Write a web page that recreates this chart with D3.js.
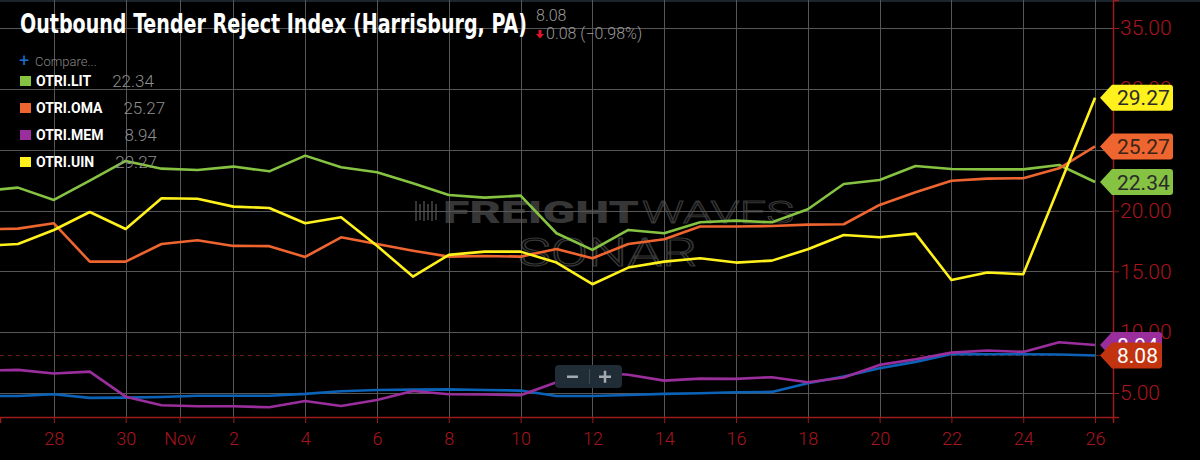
<!DOCTYPE html>
<html>
<head>
<meta charset="utf-8">
<script src="https://cdn.jsdelivr.net/npm/d3@7"></script>
<style>
  body { margin: 0; background: #000; }
  svg { display: block; font-family: Roboto, "Noto Sans", sans-serif; }
</style>
</head>
<body>
<svg id="chart" width="1200" height="460"></svg>
<script>
var dates = ["2019-10-26", "2019-10-27", "2019-10-28", "2019-10-29", "2019-10-30", "2019-10-31",
  "2019-11-01", "2019-11-02", "2019-11-03", "2019-11-04", "2019-11-05", "2019-11-06", "2019-11-07",
  "2019-11-08", "2019-11-09", "2019-11-10", "2019-11-11", "2019-11-12", "2019-11-13", "2019-11-14",
  "2019-11-15", "2019-11-16", "2019-11-17", "2019-11-18", "2019-11-19", "2019-11-20", "2019-11-21",
  "2019-11-22", "2019-11-23", "2019-11-24", "2019-11-25", "2019-11-26"];

var otriHar = [4.76, 4.76, 4.90, 4.60, 4.62, 4.67, 4.78, 4.78, 4.78, 4.93, 5.15, 5.25, 5.28, 5.30, 5.25, 5.20,
  4.76, 4.76, 4.84, 4.93, 4.98, 5.06, 5.09, 5.80, 6.35, 7.04, 7.56, 8.21, 8.18, 8.18, 8.16, 8.08];
var otriLit = [21.60, 21.88, 20.87, 22.45, 24.07, 23.44, 23.33, 23.61, 23.22, 24.51, 23.55, 23.14, 22.24, 21.28, 21.06, 21.22,
  18.13, 16.76, 18.40, 18.13, 19.03, 19.17, 19.03, 20.10, 22.18, 22.51, 23.66, 23.41, 23.38, 23.38, 23.74, 22.34];
var otriOma = [18.45, 18.51, 18.95, 15.80, 15.80, 17.25, 17.55, 17.09, 17.07, 16.18, 17.80, 17.25, 16.70, 16.21, 16.26, 16.21,
  16.84, 16.07, 17.25, 17.64, 18.68, 18.68, 18.73, 18.84, 18.87, 20.46, 21.50, 22.45, 22.62, 22.65, 23.47, 25.27];
var otriMem = [6.85, 6.90, 6.60, 6.76, 4.70, 4.00, 3.91, 3.91, 3.83, 4.35, 3.93, 4.43, 5.17, 4.90, 4.88, 4.82,
  5.89, 6.70, 6.50, 6.02, 6.18, 6.16, 6.30, 5.89, 6.28, 7.31, 7.77, 8.32, 8.49, 8.38, 9.17, 8.94];
var otriUin = [17.09, 17.25, 18.40, 19.88, 18.48, 21.01, 20.96, 20.32, 20.21, 18.95, 19.44, 17.10, 14.57, 16.35, 16.62, 16.62,
  15.72, 13.94, 15.31, 15.80, 16.07, 15.72, 15.88, 16.81, 17.99, 17.80, 18.10, 14.29, 14.90, 14.76, 22.00, 29.27];

var xTickDates = ["2019-10-28", "2019-10-30", "2019-10-31T12:00", "2019-11-02", "2019-11-04", "2019-11-06", "2019-11-08",
  "2019-11-10", "2019-11-12", "2019-11-14", "2019-11-16", "2019-11-18", "2019-11-20", "2019-11-22", "2019-11-24", "2019-11-26"];
var xTickLabels = ["28", "30", "Nov", "2", "4", "6", "8", "10", "12", "14", "16", "18", "20", "22", "24", "26"];
var yTicks = [5, 10, 15, 20, 25, 30, 35];

var series = [
  {name: "OTRI.HAR", values: otriHar, color: "#0b62b6", legend: false, tag: "#c2340f", tagText: "#fff"},
  {name: "OTRI.LIT", values: otriLit, color: "#86c342", legend: true, tag: "#86c342", tagText: "#2b2b2b"},
  {name: "OTRI.OMA", values: otriOma, color: "#ee6530", legend: true, tag: "#ee6530", tagText: "#3a2418"},
  {name: "OTRI.MEM", values: otriMem, color: "#9b2e9d", legend: true, tag: "#9b2e9d", tagText: "#fff"},
  {name: "OTRI.UIN", values: otriUin, color: "#fff21c", legend: true, tag: "#fff21c", tagText: "#2b2b2b"}
];

var svg = d3.select("#chart"),
    plotRight = 1113,
    plotBottom = 417,
    axisColor = "#9c1b1b",
    labelColor = "#a8151e",
    parse = d3.utcParse("%Y-%m-%d"),
    parseT = d3.utcParse("%Y-%m-%dT%H:%M");

var x = d3.scaleUtc()
    .domain([parseT("2019-10-26T12:00"), parseT("2019-11-26T12:00")])
    .range([0, plotRight]);
var y = d3.scaleLinear().domain([35 - 389 / 12.167, 35 + 28 / 12.167]).range([plotBottom, 0]);

var tickDates = xTickDates.map(function(s) { return s.length > 10 ? parseT(s) : parse(s); });

svg.append("rect").attr("width", 1200).attr("height", 460).attr("fill", "#000");
svg.append("rect").attr("width", 1200).attr("height", 2).attr("fill", "#1c252d");

// watermark
var wm = svg.append("g").attr("fill", "#363636");
[0, 4, 8, 12, 16, 20].forEach(function(dx, i) {
  wm.append("rect").attr("x", 415 + dx).attr("y", 201 + (i % 2) * 3).attr("width", 2).attr("height", 20 - (i % 2) * 4);
});
wm.append("text").attr("x", 443).attr("y", 223).attr("font-size", 31).attr("font-weight", 900)
    .attr("textLength", 196).attr("lengthAdjust", "spacingAndGlyphs").text("FREIGHT");
wm.append("text").attr("x", 642).attr("y", 223).attr("font-size", 31).attr("font-weight", 300)
    .attr("fill", "none").attr("stroke", "#363636").attr("stroke-width", 1)
    .attr("textLength", 152).attr("lengthAdjust", "spacingAndGlyphs").text("WAVES");
wm.append("text").attr("x", 518).attr("y", 266).attr("font-size", 38).attr("font-weight", 300)
    .attr("fill", "none").attr("stroke", "#363636").attr("stroke-width", 1.2)
    .attr("textLength", 179).attr("lengthAdjust", "spacingAndGlyphs").text("SONAR");

// grid
var grid = svg.append("g").attr("stroke", "#575757").attr("stroke-width", 1);
grid.selectAll(".vg").data(tickDates).enter().append("line")
    .attr("x1", function(d) { return Math.round(x(d)) + 0.5; })
    .attr("x2", function(d) { return Math.round(x(d)) + 0.5; })
    .attr("y1", 0).attr("y2", plotBottom);
grid.selectAll(".hg").data(yTicks).enter().append("line")
    .attr("x1", 0).attr("x2", plotRight)
    .attr("y1", function(d) { return Math.round(y(d)) + 0.5; })
    .attr("y2", function(d) { return Math.round(y(d)) + 0.5; });

var last = otriHar[otriHar.length - 1];
svg.append("line")
    .attr("x1", 0).attr("x2", plotRight)
    .attr("y1", y(last)).attr("y2", y(last))
    .attr("stroke", "#6e1d12").attr("stroke-width", 1).attr("stroke-dasharray", "4,4");

svg.append("clipPath").attr("id", "plot")
  .append("rect").attr("width", plotRight).attr("height", plotBottom);

var line = d3.line()
    .x(function(d, i) { return x(parse(dates[i])); })
    .y(function(d) { return y(d); });

svg.append("g").attr("clip-path", "url(#plot)")
  .selectAll(".series")
  .data(series)
  .enter().append("path")
    .attr("fill", "none")
    .attr("stroke", function(d) { return d.color; })
    .attr("stroke-width", 2.6)
    .attr("stroke-linejoin", "round")
    .attr("d", function(d) { return line(d.values); });

// axes
var xAxis = svg.append("g")
    .attr("transform", "translate(0," + plotBottom + ")")
    .call(d3.axisBottom(x).tickValues(tickDates).tickSizeOuter(0).tickSize(6).tickPadding(9)
      .tickFormat(function(d, i) { return xTickLabels[i]; }));
xAxis.selectAll("text").attr("fill", labelColor).attr("font-size", 18).attr("font-weight", 300)
    .attr("font-family", "Roboto, sans-serif");

var yAxis = svg.append("g")
    .attr("transform", "translate(" + plotRight + ",0)")
    .call(d3.axisRight(y).tickValues(yTicks).tickSizeOuter(0).tickSize(6).tickPadding(1)
      .tickFormat(d3.format(".2f")));
yAxis.selectAll("text").attr("fill", labelColor).attr("font-size", 21).attr("font-weight", 300)
    .attr("font-family", "Roboto, sans-serif");

svg.selectAll(".domain").attr("stroke", axisColor).attr("stroke-width", 1.5);
svg.selectAll(".tick line").attr("stroke", axisColor);

// value tags at the right edge
var tagOrder = [series[4], series[2], series[1], series[3], series[0]];
var tags = svg.append("g").selectAll(".tag").data(tagOrder).enter().append("g")
    .attr("transform", function(d) { return "translate(1100," + y(d.values[d.values.length - 1]) + ")"; });
tags.append("path")
    .attr("fill", function(d) { return d.tag; })
    .attr("d", function(d) {
      var txt = d.values[d.values.length - 1].toFixed(2), w = txt.length > 4 ? 73 : 62;
      return "M0,0L12,-13L" + (w - 3) + ",-13Q" + w + ",-13 " + w + ",-10L" + w + ",10Q" + w + ",13 " + (w - 3) + ",13L12,13Z";
    });
tags.append("text")
    .attr("x", 17).attr("dy", "0.36em")
    .attr("font-size", 21)
    .attr("fill", function(d) { return d.tagText; })
    .text(function(d) { return d.values[d.values.length - 1].toFixed(2); });

// zoom control
var zc = svg.append("g").attr("transform", "translate(555,365)");
zc.append("rect").attr("width", 67).attr("height", 23).attr("rx", 4).attr("fill", "#212d36");
zc.append("line").attr("x1", 34.5).attr("x2", 34.5).attr("y1", 4).attr("y2", 19).attr("stroke", "#3c4a55");
zc.append("rect").attr("x", 12).attr("y", 10.5).attr("width", 11).attr("height", 2.5).attr("fill", "#a3abb1");
zc.append("rect").attr("x", 44).attr("y", 10.5).attr("width", 12).attr("height", 2.5).attr("fill", "#a3abb1");
zc.append("rect").attr("x", 48.75).attr("y", 5.75).attr("width", 2.5).attr("height", 12).attr("fill", "#a3abb1");

// title and legend
svg.append("text")
    .attr("x", 20).attr("y", 33)
    .attr("fill", "#fff").attr("font-size", 27).attr("font-weight", 700)
    .attr("font-family", "'Liberation Sans Narrow', 'DejaVu Sans Condensed', Roboto, sans-serif")
    .attr("textLength", 507).attr("lengthAdjust", "spacingAndGlyphs")
    .text("Outbound Tender Reject Index (Harrisburg, PA)");

var prev = otriHar[otriHar.length - 2],
    change = last - prev;
svg.append("text").attr("x", 536).attr("y", 21).attr("fill", "#9a9a9a").attr("font-size", 16)
    .attr("font-weight", 300).text(last.toFixed(2));
svg.append("path").attr("fill", "#e3132c").attr("d", "M538.5,30h3v4h2.5l-4,4.5l-4,-4.5h2.5z");
svg.append("text").attr("x", 546).attr("y", 39).attr("fill", "#9a9a9a").attr("font-size", 16)
    .attr("font-weight", 300)
    .text(Math.abs(change).toFixed(2) + " (" + d3.format(".2f")(change / prev * 100) + "%)");

svg.append("text").attr("x", 19).attr("y", 67).attr("fill", "#1d6fd1").attr("font-size", 18)
    .attr("font-weight", 400).text("+");
svg.append("text").attr("x", 35).attr("y", 66).attr("fill", "#858585").attr("font-size", 13)
    .attr("font-weight", 300).text("Compare...");

var legend = svg.append("g").selectAll(".legend")
    .data(series.filter(function(d) { return d.legend; }))
    .enter().append("g")
    .attr("transform", function(d, i) { return "translate(20," + (81 + i * 27) + ")"; });
legend.append("rect").attr("y", -5).attr("width", 11).attr("height", 10)
    .attr("fill", function(d) { return d.color; });
legend.append("text").attr("x", 16).attr("dy", "0.36em")
    .attr("fill", "#fff").attr("font-size", 14).attr("font-weight", 700)
    .text(function(d) { return d.name; })
    .each(function(d) { d.nameWidth = this.getComputedTextLength(); });
legend.append("text")
    .attr("x", function(d) { return 16 + d.nameWidth + 21; }).attr("dy", "0.36em")
    .attr("fill", "#8e8e8e").attr("font-size", 17).attr("font-weight", 300)
    .text(function(d) { return d.values[d.values.length - 1].toFixed(2); });
</script>
</body>
</html>
